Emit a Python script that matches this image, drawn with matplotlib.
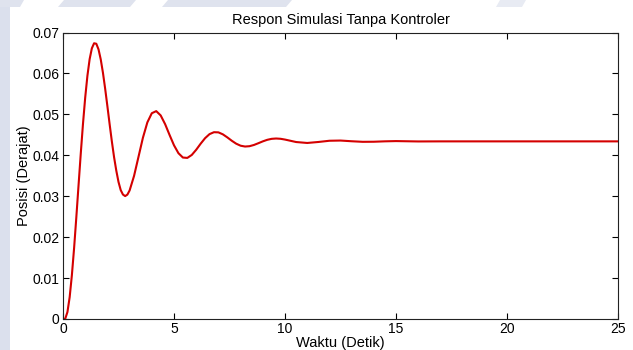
import matplotlib

matplotlib.use("Agg")
import matplotlib.pyplot as plt
from matplotlib.patches import Polygon

plt.rcParams["font.family"] = ["Liberation Sans", "DejaVu Sans"]

# step response (time in s, position in degrees)
waktu = [
    0.0, 0.1, 0.2, 0.3, 0.4, 0.5, 0.6, 0.7, 0.8, 0.9,
    1.0, 1.1, 1.2, 1.3, 1.4, 1.5, 1.6, 1.7, 1.8, 1.9,
    2.0, 2.1, 2.2, 2.3, 2.4, 2.5, 2.6, 2.7, 2.8, 2.9, 3.0,
    3.2, 3.4, 3.6, 3.8, 4.0, 4.2, 4.4, 4.6, 4.8, 5.0,
    5.2, 5.4, 5.6, 5.8, 6.0, 6.2, 6.4, 6.6, 6.8, 7.0,
    7.2, 7.4, 7.6, 7.8, 8.0, 8.2, 8.4, 8.6, 8.8, 9.0,
    9.2, 9.4, 9.6, 9.8, 10.0,
    10.5, 11.0, 11.5, 12.0, 12.5, 13.0, 13.5, 14.0, 14.5, 15.0,
    16.0, 17.0, 18.0, 19.0, 20.0, 21.0, 22.0, 23.0, 24.0, 25.0,
]
posisi = [
    0.0, 0.00005, 0.0017, 0.00533, 0.01071, 0.01733, 0.02484, 0.03265, 0.04041, 0.04767,
    0.05410, 0.05944, 0.06349, 0.06614, 0.06737, 0.06725, 0.06588, 0.06343, 0.06014, 0.05623,
    0.05198, 0.04762, 0.04341, 0.03956, 0.03627, 0.03349, 0.03149, 0.03041, 0.03003, 0.03039, 0.03140,
    0.03495, 0.03961, 0.04429, 0.04804, 0.05028, 0.05079, 0.04974, 0.04761, 0.04497, 0.04244,
    0.04051, 0.03945, 0.03936, 0.04008, 0.04135, 0.04283, 0.04418, 0.04517, 0.04564, 0.04560,
    0.04512, 0.04438, 0.04356, 0.04284, 0.04234, 0.04214, 0.04222, 0.04252, 0.04295, 0.04340,
    0.04378, 0.04402, 0.04410, 0.04403, 0.04384,
    0.04324, 0.04301, 0.04325, 0.04355, 0.04360, 0.04343, 0.04329, 0.04331, 0.04341, 0.04347,
    0.04338, 0.0434, 0.0434, 0.0434, 0.0434, 0.0434, 0.0434, 0.0434, 0.0434, 0.0434,
]
x_ticks = [0, 5, 10, 15, 20, 25]
y_ticks = [0, 0.01, 0.02, 0.03, 0.04, 0.05, 0.06, 0.07]
y_tick_labels = ["0", "0.01", "0.02", "0.03", "0.04", "0.05", "0.06", "0.07"]

W, H = 633, 350
fig = plt.figure(figsize=(W / 100, H / 100), dpi=100)


def px_poly(pts, color="#dfe3ee"):
    # watermark shapes given in pixel coords (origin top-left)
    fig.patches.append(Polygon([[x / W, 1 - y / H] for x, y in pts], closed=True,
                               transform=fig.transFigure, facecolor=color,
                               edgecolor="none", zorder=-1))


# faint watermark peeking out behind the screenshot edges
px_poly([(0, 0), (10, 0), (10, 350), (0, 350)], "#dbe0ed")
px_poly([(0, 0), (24, 0), (20, 7), (0, 7)])
px_poly([(64, 0), (136, 0), (130, 7), (58, 7)])
px_poly([(168, 0), (292, 0), (286, 7), (162, 7)])
px_poly([(500, 0), (526, 0), (522, 7), (496, 7)], "#e8ebf3")

ax = fig.add_axes([63 / W, 1 - 319 / H, 555 / W, 286.5 / H])
ax.plot(waktu, posisi, color="#d40000", linewidth=1.5)

ax.set_xlim(0, 25)
ax.set_ylim(0, 0.07)
ax.set_xticks(x_ticks)
ax.set_yticks(y_ticks)
ax.set_yticklabels(y_tick_labels)
ax.tick_params(direction="in", length=4, width=0.8, labelsize=10,
               top=True, right=True, pad=2.5)
for s in ax.spines.values():
    s.set_linewidth(0.8)
    s.set_color("#222222")

ax.set_title("Respon Simulasi Tanpa Kontroler", fontsize=10.5, pad=6)
ax.set_xlabel("Waktu (Detik)", fontsize=10.5)
ax.set_ylabel("Posisi (Derajat)", fontsize=10.5)
ax.xaxis.set_label_coords(0.5, -0.061)
ax.yaxis.set_label_coords(-0.058, 0.5)

fig.savefig("out.png")
